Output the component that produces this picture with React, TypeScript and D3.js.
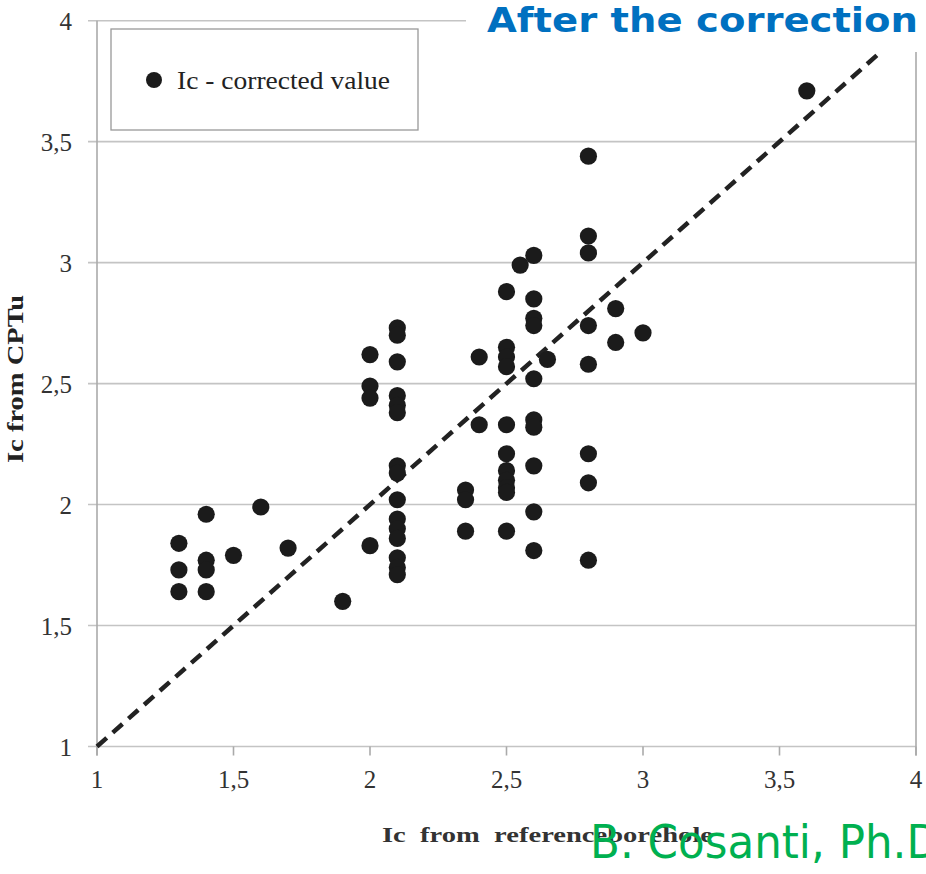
import React from 'react';
import * as d3 from 'd3';

// Ic from reference borehole (x) vs Ic from CPTu (y), corrected values
const refBorehole = [
  1.3, 1.3, 1.3,
  1.4, 1.4, 1.4, 1.4,
  1.5, 1.6, 1.7, 1.9,
  2.0, 2.0, 2.0, 2.0,
  2.1, 2.1, 2.1, 2.1, 2.1, 2.1, 2.1, 2.1, 2.1, 2.1, 2.1, 2.1, 2.1, 2.1, 2.1,
  2.35, 2.35, 2.35,
  2.4, 2.4,
  2.5, 2.5, 2.5, 2.5, 2.5, 2.5, 2.5, 2.5, 2.5, 2.5, 2.5,
  2.55,
  2.6, 2.6, 2.6, 2.6, 2.6, 2.6, 2.6, 2.6, 2.6, 2.6,
  2.65,
  2.8, 2.8, 2.8, 2.8, 2.8, 2.8, 2.8, 2.8,
  2.9, 2.9,
  3.0,
  3.6,
];
const icCptu = [
  1.84, 1.73, 1.64,
  1.96, 1.77, 1.73, 1.64,
  1.79, 1.99, 1.82, 1.60,
  2.62, 2.49, 2.44, 1.83,
  2.73, 2.70, 2.59, 2.45, 2.41, 2.38, 2.16, 2.13, 2.02, 1.94, 1.90, 1.86, 1.78, 1.74, 1.71,
  2.06, 2.02, 1.89,
  2.61, 2.33,
  2.88, 2.65, 2.61, 2.57, 2.33, 2.21, 2.14, 2.10, 2.07, 2.05, 1.89,
  2.99,
  3.03, 2.85, 2.77, 2.74, 2.52, 2.35, 2.32, 2.16, 1.97, 1.81,
  2.60,
  3.44, 3.11, 3.04, 2.74, 2.58, 2.21, 2.09, 1.77,
  2.81, 2.67,
  2.71,
  3.71,
];
const tickValues = [1, 1.5, 2, 2.5, 3, 3.5, 4];
const tickLabels = ['1', '1,5', '2', '2,5', '3', '3,5', '4'];

const W = 926;
const H = 874;
const serif = '"Liberation Serif", "Times New Roman", serif';

export default function App() {
  const x = d3.scaleLinear().domain([1, 4]).range([97, 916]);
  const y = d3.scaleLinear().domain([1, 4]).range([746.5, 20.7]);
  const gridColor = '#c4c4c4';

  return (
    <svg width={W} height={H} style={{ position: 'absolute', left: 0, top: 0, background: '#fff' }}>
      <rect width={W} height={H} fill="#fff" />

      {/* horizontal grid + y ticks */}
      {tickValues.map((t, i) => (
        <g key={'y' + t}>
          <line x1={88} x2={x(4)} y1={y(t)} y2={y(t)} stroke={gridColor} strokeWidth={1.6} />
          <text x={72} y={y(t) + 9} textAnchor="end" fontFamily={serif} fontSize={25} fill="#333">
            {tickLabels[i]}
          </text>
        </g>
      ))}

      {/* axes frame */}
      <line x1={x(1)} x2={x(1)} y1={y(4)} y2={y(1) + 9} stroke="#aaa" strokeWidth={1.6} />
      <line x1={x(4)} x2={x(4)} y1={y(4)} y2={y(1) + 9} stroke="#aaa" strokeWidth={1.6} />
      {tickValues.map((t, i) => (
        <g key={'x' + t}>
          <line x1={x(t)} x2={x(t)} y1={y(1)} y2={y(1) + 9} stroke="#aaa" strokeWidth={1.6} />
          <text x={x(t)} y={788} textAnchor="middle" fontFamily={serif} fontSize={25} fill="#333">
            {tickLabels[i]}
          </text>
        </g>
      ))}

      {/* 1:1 line */}
      <line x1={x(1)} y1={y(1)} x2={x(4)} y2={y(4)} stroke="#222" strokeWidth={4.5} strokeDasharray="13 8" />

      {/* points */}
      <g fill="#1b1b1b">
        {refBorehole.map((v, i) => (
          <circle key={i} cx={x(v)} cy={y(icCptu[i])} r={8.6} />
        ))}
      </g>

      {/* legend */}
      <rect x={111} y={29} width={307} height={101} fill="#fff" stroke="#999" strokeWidth={1.3} />
      <circle cx={154} cy={80} r={8} fill="#1b1b1b" />
      <text x={177} y={89} fontFamily={serif} fontSize={26} fill="#222" textLength={213} lengthAdjust="spacingAndGlyphs">
        Ic - corrected value
      </text>

      {/* axis titles */}
      <text
        transform="translate(23,379) rotate(-90)"
        textAnchor="middle"
        fontFamily={serif}
        fontWeight="bold"
        fontSize={23}
        fill="#222"
        textLength={168}
        lengthAdjust="spacingAndGlyphs"
      >
        Ic from CPTu
      </text>
      <text x={382} y={842} fontFamily={serif} fontWeight="bold" fontSize={22} fill="#333" textLength={331} lengthAdjust="spacingAndGlyphs" xmlSpace="preserve">
        Ic  from  referenceborehole
      </text>

      {/* title overlay */}
      <rect x={466} y={0} width={W - 466} height={52} fill="#fff" />
      <text x={487} y={32} fontFamily='"Comic Sans MS", "DejaVu Sans", sans-serif' fontWeight="bold" fontSize={34} fill="#0070C0" textLength={431} lengthAdjust="spacingAndGlyphs">
        After the correction
      </text>

      {/* watermark */}
      <text x={590} y={858} fontFamily='"Comic Sans MS", "DejaVu Sans", sans-serif' fontSize={46} fill="#00B050" textLength={350} lengthAdjust="spacingAndGlyphs">
        B. Cosanti, Ph.D
      </text>
    </svg>
  );
}
